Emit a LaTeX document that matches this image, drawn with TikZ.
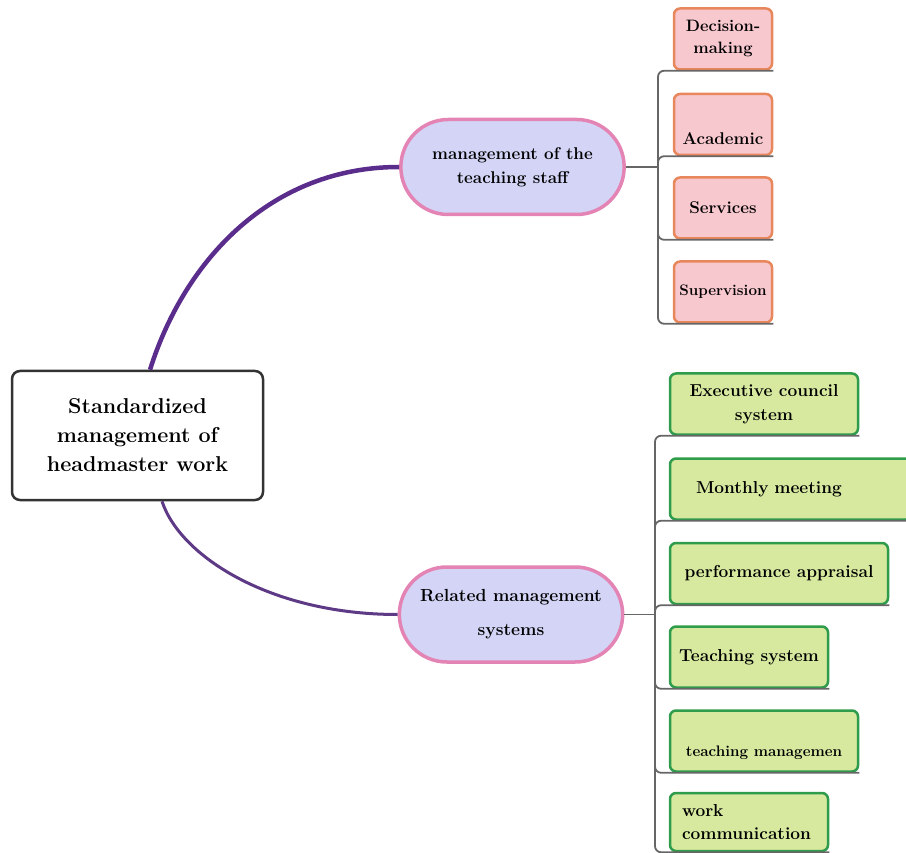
\documentclass[tikz,border=0pt]{standalone}
\usetikzlibrary{shapes.misc}

\definecolor{topicblue}{HTML}{D3D4F6}
\definecolor{topicrim}{HTML}{E484B4}
\definecolor{leafpink}{HTML}{F8C8CF}
\definecolor{leafrim}{HTML}{E8865C}
\definecolor{leafgreen}{HTML}{2F9C4B}
\definecolor{leafyellow}{HTML}{D6E99F}
\definecolor{spinetop}{HTML}{5A2C8C}
\definecolor{spinelow}{HTML}{5E3A86}

\begin{document}
\begin{tikzpicture}[
    x=1pt,
    y=-1pt,
    root/.style={
        rectangle,
        draw=black!80,
        line width=2.5pt,
        rounded corners=8pt,
        fill=white,
        minimum width=251pt,
        minimum height=129pt,
        align=center,
        font=\bfseries\fontsize{21.5}{29}\selectfont
    },
    topic/.style={
        rounded rectangle,
        draw=topicrim,
        line width=3.5pt,
        fill=topicblue,
        minimum width=230pt,
        minimum height=95pt,
        align=center,
        font=\bfseries\fontsize{17}{24}\selectfont
    },
    pinkleaf/.style={
        rectangle,
        draw=leafrim,
        line width=2.5pt,
        rounded corners=6pt,
        fill=leafpink,
        minimum width=98pt,
        minimum height=61pt,
        inner sep=2pt,
        align=center,
        font=\bfseries\fontsize{16.5}{22}\selectfont
    },
    greenleaf/.style={
        rectangle,
        draw=leafgreen,
        line width=2.5pt,
        rounded corners=6pt,
        fill=leafyellow,
        minimum height=61pt,
        inner sep=2pt,
        align=center,
        font=\bfseries\fontsize{17.3}{24}\selectfont
    },
    branch/.style={
        draw=black!60,
        line width=1.8pt,
        rounded corners=6pt
    }
]
    \useasboundingbox (0,0) rectangle (906,853);

    % Root
    \node[root] (root) at (137.5,435.5) {Standardized\\management of\\headmaster work};

    % Topics
    \node[topic] (staff) at (512.5,167) {management of the\\teaching staff};
    \node[topic, font=\bfseries\fontsize{17.5}{34}\selectfont] (systems) at (511,614.5) {Related management\\systems};

    % Spines from the root
    \draw[spinetop, line width=4.5pt] ([xshift=12.5pt]root.north) .. controls +(35,-111) and +(-127,0) .. (staff.west);
    \draw[spinelow, line width=3pt] ([xshift=24.5pt]root.south) .. controls +(18,55) and +(-127,0) .. (systems.west);

    % Teaching staff leaves
    \node[pinkleaf] (decision) at (723,39) {Decision-\\making};
    \node[pinkleaf, text height=41pt, text depth=0pt, font=\bfseries\fontsize{17}{22}\selectfont] (academic) at (723,124.5) {Academic};
    \node[pinkleaf, font=\bfseries\fontsize{17}{22}\selectfont] (services) at (723,208) {Services};
    \node[pinkleaf, font=\bfseries\fontsize{15.2}{22}\selectfont] (supervision) at (723,292) {Supervision};

    % Management system leaves
    \node[greenleaf, minimum width=188pt] (council) at (764,404) {Executive council\\system};
    \node[greenleaf, inner xsep=26pt, text width=190pt, align=left] (monthly) at (791,489) {Monthly meeting};
    \node[greenleaf, minimum width=218pt] (appraisal) at (779,573.5) {performance appraisal};
    \node[greenleaf, minimum width=158pt] (teachsys) at (749,657) {Teaching system};
    \node[greenleaf, minimum width=188pt, text height=30pt, text depth=0pt, font=\bfseries\fontsize{15.2}{22}\selectfont] (teachmgmt) at (764,741) {teaching managemen};
    \node[greenleaf, inner xsep=12pt, text width=134pt, align=left, minimum height=58pt, font=\bfseries\fontsize{17.3}{23}\selectfont] (workcomm) at (749,822) {work\\communication};

    % Brackets
    \coordinate (busA) at (658,167);
    \coordinate (busB) at (655,614.5);
    \draw[branch] (staff.east) -- (busA);
    \foreach \leaf in {decision, academic, services, supervision}
        \draw[branch] (busA) |- (\leaf.south east);
    \draw[branch] (systems.east) -- (busB);
    \foreach \leaf in {council, monthly, appraisal, teachsys, teachmgmt, workcomm}
        \draw[branch] (busB) |- (\leaf.south east);

\end{tikzpicture}
\end{document}
